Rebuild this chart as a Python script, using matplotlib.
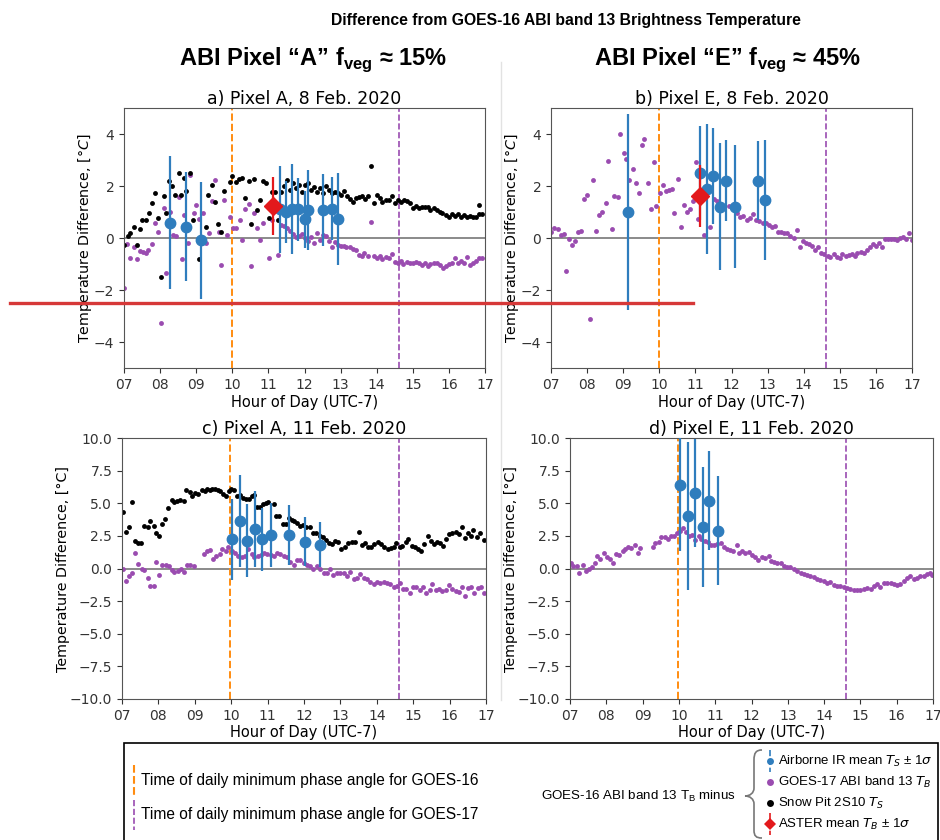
import matplotlib
matplotlib.use("Agg")
import matplotlib.pyplot as plt
from matplotlib.lines import Line2D
from matplotlib.patches import Rectangle, PathPatch
from matplotlib.path import Path

NARROW = ["Liberation Sans Narrow", "Liberation Sans", "DejaVu Sans"]
plt.rcParams["mathtext.fontset"] = "custom"
plt.rcParams["mathtext.rm"] = "Liberation Sans"
plt.rcParams["mathtext.bf"] = "Liberation Sans:bold"
plt.rcParams["mathtext.it"] = "DejaVu Sans:italic"

# ---------------- data (hour of day, difference in degC) ----------------
# a) Pixel A, 8 Feb 2020
a_pit_h = [7.00, 7.11, 7.18, 7.27, 7.36, 7.43, 7.51, 7.60, 7.69, 7.77,
           7.85, 7.93, 8.02, 8.10, 8.17, 8.25, 8.34, 8.41, 8.51, 8.58,
           8.65, 8.73, 8.84, 8.91, 9.08, 9.26, 9.34, 9.43, 9.51, 9.60,
           9.69, 9.76, 9.93, 10.00, 10.10, 10.18, 10.26, 10.35, 10.45, 10.51,
           10.60, 10.69, 10.76, 10.84, 10.93, 11.01, 11.09, 11.18, 11.27, 11.35,
           11.43, 11.51, 11.59, 11.68, 11.76, 11.84, 11.93, 12.02, 12.09, 12.17,
           12.26, 12.35, 12.43, 12.52, 12.59, 12.68, 12.76, 12.85, 12.93, 13.01,
           13.09, 13.18, 13.26, 13.35, 13.42, 13.51, 13.59, 13.67, 13.85, 13.92,
           14.00, 14.09, 14.16, 14.25, 14.33, 14.42, 14.50, 14.59, 14.66, 14.75,
           14.83, 14.92, 15.00, 15.09, 15.16, 15.25, 15.33, 15.42, 15.49, 15.59,
           15.66, 15.75, 15.82, 15.92, 15.99, 16.08, 16.17, 16.25, 16.33, 16.42,
           16.49, 16.58, 16.66, 16.75, 16.83, 16.84, 16.93, 13.76]
a_pit_v = [-0.27, 0.08, 0.18, 0.41, -0.27, 0.33, 0.69, 0.69, 0.97, 1.36,
           1.72, 0.76, -1.51, 1.62, 0.95, 2.21, 2.00, 1.65, 2.51, 1.65,
           2.32, 1.79, 2.49, 0.69, -0.82, 0.41, 1.64, 2.03, 1.40, 0.54,
           0.22, 1.82, 2.17, 2.38, 2.17, 2.26, 2.29, 1.55, 2.21, 0.54,
           2.26, 1.08, 1.46, 2.21, 2.13, 0.76, 1.78, 1.78, 0.69, 1.78,
           2.00, 2.23, 1.85, 2.13, 1.91, 2.04, 1.78, 2.04, 2.13, 1.85,
           1.95, 1.78, 1.91, 1.72, 2.00, 1.85, 1.72, 1.78, 1.74, 1.65,
           1.82, 1.62, 1.49, 1.40, 1.53, 1.56, 1.62, 1.49, 2.77, 1.36,
           1.65, 1.53, 1.40, 1.46, 1.46, 1.62, 1.36, 1.46, 1.40, 1.46,
           1.44, 1.36, 1.14, 1.23, 1.14, 1.21, 1.18, 1.21, 1.08, 1.14,
           1.08, 1.01, 0.95, 0.88, 0.79, 0.92, 0.85, 0.92, 0.82, 0.88,
           0.79, 0.85, 0.79, 0.82, 1.27, 0.92, 0.92, 1.60]
a_g17_h = [7.00, 7.09, 7.18, 7.27, 7.36, 7.43, 7.53, 7.60, 7.67, 7.77,
           7.85, 7.93, 8.02, 8.10, 8.17, 8.27, 8.36, 8.43, 8.51, 8.60,
           8.67, 8.77, 8.84, 8.93, 9.00, 9.09, 9.19, 9.28, 9.36, 9.45,
           9.52, 9.62, 9.69, 9.78, 9.86, 9.95, 10.02, 10.11, 10.21, 10.28,
           10.35, 10.45, 10.52, 10.60, 10.69, 10.76, 10.85, 11.02, 11.10, 11.27,
           11.35, 11.43, 11.52, 11.59, 11.69, 11.76, 11.85, 11.93, 12.02, 12.09,
           12.18, 12.26, 12.35, 12.43, 12.52, 12.59, 12.68, 12.76, 12.85, 12.93,
           13.00, 13.09, 13.16, 13.26, 13.33, 13.42, 13.50, 13.59, 13.66, 13.76,
           13.85, 13.92, 14.00, 14.09, 14.16, 14.25, 14.33, 14.42, 14.50, 14.59,
           14.66, 14.74, 14.83, 14.92, 15.00, 15.09, 15.16, 15.25, 15.33, 15.42,
           15.49, 15.59, 15.66, 15.75, 15.83, 15.92, 15.99, 16.08, 16.17, 16.25,
           16.33, 16.42, 16.49, 16.58, 16.66, 16.75, 16.84, 16.93]
a_g17_v = [-1.94, -0.23, -0.78, -0.33, -0.82, -0.49, -0.53, -0.59, -0.46, -0.23,
           0.56, 0.24, -3.26, 1.14, -1.33, 1.01, 0.12, 0.08, 1.56, -0.82,
           0.88, -0.21, 2.42, 0.95, 1.27, 0.72, 0.97, -0.21, 0.21, 1.44,
           2.23, 0.24, -1.04, 1.46, 0.12, 0.79, 0.37, 0.37, 0.69, -0.08,
           1.10, 1.31, -1.08, 0.97, 0.37, -0.08, 0.59, -0.78, 0.69, -0.65,
           0.50, 0.46, 0.37, 0.28, 0.15, 0.05, 0.08, 0.15, -0.01, -0.10,
           0.03, -0.21, 0.21, -0.08, 0.12, 0.08, -0.10, -0.36, -0.14, -0.27,
           -0.31, -0.31, -0.33, -0.36, -0.44, -0.46, -0.65, -0.69, -0.56, -0.69,
           0.63, -0.69, -0.78, -0.69, -0.82, -0.72, -0.78, -0.62, -0.91, -0.95,
           -0.87, -1.00, -0.91, -0.97, -0.95, -0.91, -0.95, -1.04, -0.95, -1.08,
           -1.00, -0.95, -0.95, -1.04, -1.17, -1.08, -1.00, -0.95, -0.78, -0.97,
           -0.87, -0.95, -0.74, -1.04, -0.95, -0.87, -0.78, -0.78]
a_air_h = [8.27, 8.71, 9.13, 11.32, 11.48, 11.66, 11.83, 12.02, 12.09, 12.52, 12.75, 12.94]
a_air_v = [0.59, 0.44, -0.08, 1.10, 1.01, 1.10, 1.10, 0.72, 1.08, 1.08, 1.13, 0.72]
a_air_s = [2.56, 2.10, 2.25, 1.67, 1.20, 1.73, 1.20, 1.10, 1.55, 1.40, 1.20, 1.77]
a_aster = (11.13, 1.23, 1.12)

# b) Pixel E, 8 Feb 2020
b_g17_h = [7.00, 7.09, 7.19, 7.28, 7.35, 7.42, 7.50, 7.58, 7.66, 7.74,
           7.83, 7.92, 8.01, 8.09, 8.17, 8.25, 8.34, 8.42, 8.51, 8.59,
           8.68, 8.75, 8.85, 8.92, 9.01, 9.09, 9.17, 9.26, 9.35, 9.43,
           9.51, 9.59, 9.68, 9.76, 9.84, 9.92, 10.01, 10.09, 10.18, 10.26,
           10.34, 10.42, 10.51, 10.59, 10.68, 10.76, 10.84, 10.92, 11.01, 11.08,
           11.25, 11.41, 11.51, 11.60, 11.78, 11.93, 12.15, 12.24, 12.33, 12.42,
           12.51, 12.60, 12.68, 12.77, 12.86, 12.95, 13.04, 13.11, 13.20, 13.30,
           13.37, 13.46, 13.54, 13.63, 13.72, 13.81, 13.90, 13.98, 14.05, 14.14,
           14.23, 14.31, 14.40, 14.48, 14.57, 14.66, 14.74, 14.83, 14.91, 15.00,
           15.07, 15.16, 15.25, 15.33, 15.42, 15.49, 15.59, 15.66, 15.75, 15.85,
           15.92, 16.01, 16.09, 16.18, 16.25, 16.34, 16.42, 16.51, 16.58, 16.67,
           16.75, 16.84, 16.93, 16.99]
b_g17_v = [0.24, 0.37, 0.33, 0.10, 0.15, -1.26, -0.05, -0.26, -0.10, 0.23,
           0.28, 1.49, 1.67, -3.10, 2.23, 0.26, 0.87, 1.00, 1.36, 2.97,
           0.36, 1.62, 1.59, 4.00, 3.26, 3.03, 2.23, 2.67, 2.10, 1.72,
           3.56, 3.79, 2.13, 1.13, 2.94, 1.23, 1.74, 2.03, 1.79, 1.85,
           1.87, 0.95, 2.26, 0.44, 1.28, 1.00, 1.13, 1.41, 2.92, 0.72,
           0.13, 0.44, 1.49, 1.44, 1.21, 1.25, 0.95, 0.82, 0.85, 0.69,
           0.76, 0.92, 0.69, 0.67, 0.59, 0.59, 0.50, 0.41, 0.46, 0.24,
           0.24, 0.21, 0.18, 0.08, -0.01, 0.31, -0.36, -0.12, -0.18, -0.23,
           -0.31, -0.46, -0.36, -0.59, -0.62, -0.69, -0.74, -0.62, -0.72, -0.78,
           -0.62, -0.69, -0.65, -0.62, -0.69, -0.56, -0.53, -0.56, -0.46, -0.36,
           -0.23, -0.31, -0.18, -0.33, -0.05, -0.03, -0.05, -0.03, -0.08, 0.00,
           0.03, -0.03, 0.18, -0.08]
b_air_h = [9.12, 11.12, 11.32, 11.49, 11.68, 11.84, 12.10, 12.73, 12.94]
b_air_v = [1.00, 2.49, 1.87, 2.38, 1.21, 2.21, 1.21, 2.21, 1.46]
b_air_s = [3.77, 1.80, 2.50, 1.86, 2.43, 1.55, 2.38, 1.52, 2.31]
b_aster = (11.12, 1.62, 1.19)

# c) Pixel A, 11 Feb 2020
c_pit_h = [7.03, 7.12, 7.19, 7.28, 7.36, 7.43, 7.52, 7.61, 7.71, 7.78,
           7.87, 7.94, 8.02, 8.09, 8.18, 8.27, 8.36, 8.44, 8.51, 8.60,
           8.69, 8.77, 8.86, 8.93, 9.01, 9.10, 9.19, 9.28, 9.34, 9.41,
           9.48, 9.55, 9.63, 9.70, 9.77, 9.85, 9.93, 9.99, 10.07, 10.16,
           10.23, 10.32, 10.40, 10.48, 10.56, 10.63, 10.71, 10.78, 10.86, 10.95,
           11.02, 11.17, 11.24, 11.31, 11.42, 11.50, 11.59, 11.66, 11.73, 11.81,
           11.90, 11.97, 12.06, 12.16, 12.25, 12.34, 12.43, 12.52, 12.60, 12.69,
           12.76, 12.85, 12.94, 13.03, 13.13, 13.22, 13.31, 13.40, 13.51, 13.58,
           13.68, 13.75, 13.84, 13.93, 14.02, 14.12, 14.21, 14.30, 14.39, 14.46,
           14.54, 14.63, 14.70, 14.79, 14.87, 14.96, 15.05, 15.14, 15.21, 15.31,
           15.40, 15.49, 15.56, 15.65, 15.75, 15.82, 15.91, 15.98, 16.07, 16.17,
           16.26, 16.33, 16.42, 16.50, 16.59, 16.64, 16.75, 16.84, 16.94]
c_pit_v = [4.31, 2.80, 3.21, 5.11, 2.09, 1.98, 1.93, 3.26, 3.16, 3.67,
           3.26, 2.75, 2.50, 3.42, 3.78, 4.65, 5.26, 5.06, 5.21, 5.26,
           5.21, 5.98, 5.83, 5.57, 5.77, 5.72, 5.98, 5.93, 6.08, 5.98,
           6.13, 6.13, 6.03, 5.93, 5.72, 5.57, 5.93, 6.13, 6.03, 5.57,
           5.67, 5.42, 5.31, 5.31, 5.57, 5.67, 4.75, 4.75, 4.95, 5.01,
           5.06, 4.95, 4.03, 4.03, 3.42, 3.42, 3.85, 3.72, 3.67, 3.47,
           3.26, 3.34, 3.21, 3.16, 2.70, 2.75, 2.50, 2.45, 2.19, 1.98,
           1.88, 2.14, 2.04, 1.47, 1.63, 1.93, 2.06, 2.04, 2.83, 1.81,
           1.98, 1.63, 1.63, 1.88, 2.06, 1.88, 1.63, 1.47, 1.55, 1.63,
           1.98, 1.63, 1.73, 2.06, 2.24, 1.73, 1.63, 1.47, 1.37, 1.88,
           2.50, 2.14, 1.88, 2.06, 1.98, 1.73, 2.24, 2.65, 2.75, 2.83,
           2.65, 3.16, 2.32, 2.70, 2.50, 2.96, 2.45, 2.75, 2.19]
c_g17_h = [7.03, 7.12, 7.19, 7.28, 7.36, 7.45, 7.54, 7.61, 7.71, 7.78,
           7.87, 7.94, 8.03, 8.11, 8.20, 8.29, 8.36, 8.44, 8.53, 8.62,
           8.71, 8.79, 8.88, 8.97, 9.24, 9.34, 9.41, 9.50, 9.59, 9.68,
           9.76, 9.85, 9.92, 10.01, 10.10, 10.20, 10.29, 10.38, 10.47, 10.56,
           10.64, 10.73, 10.82, 10.91, 10.98, 11.08, 11.17, 11.26, 11.35, 11.44,
           11.53, 11.62, 11.72, 11.81, 11.90, 11.99, 12.08, 12.17, 12.26, 12.36,
           12.45, 12.54, 12.63, 12.72, 12.81, 12.91, 13.00, 13.09, 13.18, 13.27,
           13.36, 13.45, 13.55, 13.64, 13.73, 13.82, 13.91, 14.01, 14.10, 14.19,
           14.28, 14.37, 14.46, 14.55, 14.63, 14.72, 14.81, 14.90, 14.99, 15.09,
           15.18, 15.27, 15.36, 15.45, 15.53, 15.62, 15.71, 15.80, 15.89, 15.98,
           16.07, 16.17, 16.26, 16.35, 16.42, 16.51, 16.59, 16.68, 16.77, 16.86,
           16.95]
c_g17_v = [-0.06, -0.93, -0.58, -0.32, 1.22, 0.35, -0.06, -0.12, -0.76, -1.34,
           -1.34, 0.52, -0.52, 0.27, 0.27, 0.19, -0.12, -0.24, -0.17, -0.06,
           -0.24, 0.27, 0.27, 0.19, 1.11, 1.37, 1.42, 0.70, 0.96, 1.11,
           1.47, 1.37, 1.63, 1.37, 1.22, 0.96, 0.91, 0.96, 1.47, 1.11,
           0.86, 0.96, 1.04, 1.17, 1.11, 1.04, 0.96, 1.17, 1.11, 0.96,
           0.86, 0.52, 0.27, 0.65, 0.65, 0.45, 0.27, 0.19, -0.06, 0.19,
           -0.06, -0.37, -0.32, -0.06, -0.50, -0.32, -0.37, -0.32, -0.58, -0.24,
           -0.83, -0.76, -0.42, -0.76, -0.83, -1.01, -1.19, -1.01, -1.09, -1.01,
           -1.09, -1.19, -1.45, -1.34, -1.09, -1.60, -1.60, -1.86, -1.40, -1.45,
           -1.65, -1.45, -1.91, -1.65, -1.19, -1.65, -1.60, -1.70, -1.65, -1.27,
           -1.60, -1.70, -1.78, -1.45, -2.11, -1.52, -1.45, -1.86, -1.52, -1.40,
           -1.86]
c_air_h = [10.03, 10.25, 10.43, 10.66, 10.84, 11.10, 11.60, 12.03, 12.45]
c_air_v = [2.24, 3.65, 2.14, 3.01, 2.24, 2.57, 2.57, 2.06, 1.81]
c_air_s = [3.10, 3.55, 2.80, 2.90, 2.40, 2.45, 2.27, 1.88, 1.72]

# d) Pixel E, 11 Feb 2020
d_g17_h = [7.02, 7.09, 7.18, 7.26, 7.35, 7.44, 7.53, 7.61, 7.68, 7.75,
           7.84, 7.94, 8.01, 8.10, 8.19, 8.27, 8.36, 8.45, 8.52, 8.61,
           8.69, 8.78, 8.87, 8.94, 9.28, 9.35, 9.44, 9.51, 9.61, 9.70,
           9.77, 9.86, 9.94, 10.03, 10.12, 10.19, 10.28, 10.36, 10.45, 10.54,
           10.61, 10.71, 10.80, 10.89, 10.98, 11.06, 11.17, 11.24, 11.33, 11.40,
           11.50, 11.59, 11.66, 11.75, 11.83, 11.92, 12.01, 12.10, 12.19, 12.28,
           12.38, 12.47, 12.54, 12.63, 12.71, 12.80, 12.89, 12.98, 13.07, 13.17,
           13.26, 13.35, 13.44, 13.53, 13.62, 13.72, 13.81, 13.90, 13.99, 14.08,
           14.17, 14.27, 14.36, 14.45, 14.54, 14.63, 14.72, 14.82, 14.91, 15.00,
           15.09, 15.18, 15.28, 15.37, 15.46, 15.55, 15.64, 15.73, 15.83, 15.92,
           16.01, 16.10, 16.19, 16.28, 16.38, 16.47, 16.56, 16.65, 16.74, 16.83,
           16.93, 16.98]
d_g17_v = [0.45, 0.19, 0.19, -0.32, 0.24, -0.17, -0.06, 0.14, 0.40, 0.96,
           0.70, 1.22, 0.86, 0.70, 0.40, 1.11, 1.01, 1.37, 1.47, 1.63,
           1.55, 1.81, 1.22, 1.55, 1.68, 1.98, 2.06, 2.45, 2.40, 2.24,
           2.50, 2.50, 2.75, 2.91, 3.09, 2.83, 2.50, 2.57, 2.19, 2.50,
           2.24, 2.14, 2.06, 1.81, 1.81, 1.88, 1.98, 1.63, 1.47, 1.42,
           1.37, 1.81, 1.22, 1.37, 1.22, 1.29, 1.04, 0.86, 0.65, 0.91,
           0.78, 0.96, 0.60, 0.52, 0.40, 0.45, 0.19, 0.14, 0.14, -0.06,
           -0.17, -0.32, -0.42, -0.50, -0.58, -0.68, -0.83, -0.88, -0.93, -1.09,
           -1.01, -1.27, -1.34, -1.34, -1.45, -1.52, -1.60, -1.65, -1.65, -1.65,
           -1.60, -1.52, -1.60, -1.34, -1.19, -1.40, -1.09, -1.14, -1.09, -1.19,
           -1.27, -1.19, -0.93, -0.76, -0.58, -0.83, -0.76, -0.58, -0.58, -0.42,
           -0.32, -0.50]
d_air_h = [10.03, 10.25, 10.43, 10.67, 10.83, 11.09]
d_air_v = [6.42, 4.03, 5.77, 3.16, 5.21, 2.91]
d_air_s = [5.10, 5.70, 4.15, 4.60, 3.80, 4.15]

g16_min_phase = 9.98
g17_min_phase = 14.61
hour_ticks = [7, 8, 9, 10, 11, 12, 13, 14, 15, 16, 17]
hour_labels = ["07", "08", "09", "10", "11", "12", "13", "14", "15", "16", "17"]

BLUE = "#2f7dbd"
PURPLE = "#9a4cb0"
ORANGE = "#ff8c10"
RED = "#e3191c"

W, H = 940, 840
fig = plt.figure(figsize=(W / 100, H / 100), dpi=100)


def px(x, y):
    return x / W, 1 - y / H


def panel(rect, title, ylim, yticks, ylabel, g17, pit=None, air=None, aster=None, fmt="{:g}"):
    l, t, r, b = rect
    ax = fig.add_axes([l / W, 1 - b / H, (r - l) / W, (b - t) / H])
    ax.axhline(0, color="#8a8a8a", lw=1.4, zorder=1)
    ax.axvline(g16_min_phase, color=ORANGE, ls="--", lw=1.4, zorder=1)
    ax.axvline(g17_min_phase, color=PURPLE, ls="--", lw=1.2, zorder=1)
    ax.plot(g17[0], g17[1], "o", color=PURPLE, ms=3.5, mew=0, zorder=2)
    if pit is not None:
        ax.plot(pit[0], pit[1], "o", color="black", ms=3.5, mew=0, zorder=2)
    if air is not None:
        ax.errorbar(air[0], air[1], yerr=air[2], fmt="o", color=BLUE, ms=7.5,
                    elinewidth=1.6, capsize=0, zorder=3)
    if aster is not None:
        ax.errorbar([aster[0]], [aster[1]], yerr=[aster[2]], fmt="D", color=RED,
                    ms=9, elinewidth=1.6, capsize=0, zorder=4)
    ax.set_xlim(7, 17)
    ax.set_ylim(*ylim)
    ax.set_xticks(hour_ticks)
    ax.set_xticklabels(hour_labels)
    ax.set_yticks(yticks)
    ax.set_yticklabels([fmt.format(v).replace("-", "\u2212") for v in yticks])
    ax.tick_params(labelsize=10, colors="#333333")
    for s in ax.spines.values():
        s.set_color("#555555")
    ax.set_title(title, fontsize=12.5, pad=3)
    ax.set_xlabel("Hour of Day (UTC-7)", fontsize=10.5, labelpad=2)
    ax.set_ylabel(ylabel, fontsize=10.3, labelpad=0)
    return ax


lab_it = "Temperature Difference, [°$C$]"
lab_up = "Temperature Difference, [°C]"
yt_small = [-4, -2, 0, 2, 4]
yt_big = [-10, -7.5, -5, -2.5, 0, 2.5, 5, 7.5, 10]

panel((124, 108, 485, 368), "a) Pixel A, 8 Feb. 2020", (-5, 5), yt_small, lab_it,
      (a_g17_h, a_g17_v), (a_pit_h, a_pit_v), (a_air_h, a_air_v, a_air_s), a_aster)
panel((551, 108, 912, 368), "b) Pixel E, 8 Feb. 2020", (-5, 5), yt_small, lab_it,
      (b_g17_h, b_g17_v), None, (b_air_h, b_air_v, b_air_s), b_aster)
panel((122, 438, 486, 699), "c) Pixel A, 11 Feb. 2020", (-10, 10), yt_big, lab_up,
      (c_g17_h, c_g17_v), (c_pit_h, c_pit_v), (c_air_h, c_air_v, c_air_s), fmt="{:.1f}")
panel((570, 438, 933, 699), "d) Pixel E, 11 Feb. 2020", (-10, 10), yt_big, lab_up,
      (d_g17_h, d_g17_v), None, (d_air_h, d_air_v, d_air_s), fmt="{:.1f}")

# headers
fig.text(*px(566, 20), "Difference from GOES-16 ABI band 13 Brightness Temperature",
         family=NARROW, weight="bold", fontsize=11.3, ha="center", va="center")
fig.text(*px(313, 60), "ABI Pixel \u201cA\u201d f$_{\\mathbf{veg}}$ \u2248 15%",
         family=NARROW, weight="bold", fontsize=17, ha="center", va="center")
fig.text(*px(727, 60), "ABI Pixel \u201cE\u201d f$_{\\mathbf{veg}}$ \u2248 45%",
         family=NARROW, weight="bold", fontsize=17, ha="center", va="center")

# faint column separator and red stroke across the top row
fig.add_artist(Line2D([501 / W] * 2, [1 - 62 / H, 1 - 700 / H], color="#e2e2e2", lw=1))
fig.add_artist(Line2D([10 / W, 693 / W], [1 - 303 / H] * 2, color="#d63838", lw=2.4))

# key box at the bottom
fig.add_artist(Rectangle(px(124, 850), (938 - 124) / W, (850 - 743) / H, fill=False,
                         edgecolor="black", lw=1.2, transform=fig.transFigure))
fig.add_artist(Line2D([134 / W] * 2, [1 - 765 / H, 1 - 795 / H], color=ORANGE, ls="--", lw=1.5))
fig.add_artist(Line2D([134 / W] * 2, [1 - 800 / H, 1 - 830 / H], color=PURPLE, ls="--", lw=1.2))
fig.text(*px(141, 780), "Time of daily minimum phase angle for GOES-16",
         family=NARROW, fontsize=11.2, va="center")
fig.text(*px(141, 814), "Time of daily minimum phase angle for GOES-17",
         family=NARROW, fontsize=11.2, va="center")
fig.text(*px(541, 796), "GOES-16 ABI band 13 T$_\\mathrm{B}$ minus",
         family=NARROW, fontsize=9.6, va="center")

# curly brace
bx = [(762, 750), (756, 750), (754, 753), (754, 760), (754, 788),
      (754, 793), (750, 796), (745, 796),
      (750, 796), (754, 799), (754, 804), (754, 830),
      (754, 836), (756, 838), (762, 838)]
codes = [Path.MOVETO, Path.CURVE4, Path.CURVE4, Path.CURVE4, Path.LINETO,
         Path.CURVE4, Path.CURVE4, Path.CURVE4,
         Path.CURVE4, Path.CURVE4, Path.CURVE4, Path.LINETO,
         Path.CURVE4, Path.CURVE4, Path.CURVE4]
brace = Path([px(x, y) for x, y in bx], codes)
fig.add_artist(PathPatch(brace, fill=False, edgecolor="#777777", lw=1.2,
                         transform=fig.transFigure))

items = [("Airborne IR mean $T_S$ \u00b1 1$\\sigma$", BLUE, "o", 761, True),
         ("GOES-17 ABI band 13 $T_B$", PURPLE, "o", 782, False),
         ("Snow Pit 2S10 $T_S$", "black", "o", 803, False),
         ("ASTER mean $T_B$ \u00b1 1$\\sigma$", RED, "D", 824, True)]
for label, col, mk, y, bar in items:
    if bar:
        fig.add_artist(Line2D([770 / W] * 2, [1 - (y - 11) / H, 1 - (y + 11) / H],
                              color=col, ls="--", lw=1.2))
    fig.add_artist(Line2D([770 / W], [1 - y / H], marker=mk, color=col,
                          ms=5 if mk == "o" else 6, mew=0, ls="none"))
    fig.text(*px(778, y), label, family=NARROW, fontsize=9.5, va="center")

fig.savefig("out.png", dpi=100)
